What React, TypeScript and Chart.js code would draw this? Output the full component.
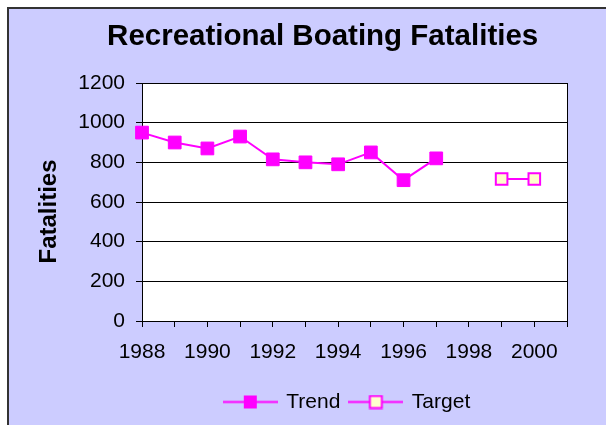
import React, { useEffect, useRef } from 'react';
import { Chart, registerables } from 'chart.js';

Chart.register(...registerables);

// ---- Data ----
const trendYears = [1988, 1989, 1990, 1991, 1992, 1993, 1994, 1995, 1996, 1997];
const trendValues = [950, 900, 870, 930, 815, 800, 790, 850, 710, 820];
const targetYears = [1999, 2000];
const targetValues = [716, 716];
const xMin = 1988;
const xMax = 2001;
const yMin = 0;
const yMax = 1200;
const yStep = 200;
const titleText = 'Recreational Boating Fatalities';
const yAxisTitle = 'Fatalities';
const seriesNames = ['Trend', 'Target'];

// ---- Styles ----
const FONT = '"Liberation Sans", Arial, sans-serif';
const MAGENTA = '#FF00FF';
const TARGET_FILL = '#FFFFCC';
const BG = '#CCCCFF';

function makeIcon(fill: string, border: number): HTMLCanvasElement {
  const c = document.createElement('canvas');
  c.width = 55;
  c.height = 15;
  const ctx = c.getContext('2d')!;
  ctx.strokeStyle = MAGENTA;
  ctx.lineWidth = 2;
  ctx.beginPath();
  ctx.moveTo(0, 7.5);
  ctx.lineTo(55, 7.5);
  ctx.stroke();
  if (border > 1) {
    ctx.fillStyle = fill;
    ctx.fillRect(21.5, 1.5, 12, 12);
    ctx.strokeRect(21.5, 1.5, 12, 12);
  } else {
    ctx.fillStyle = fill;
    ctx.fillRect(21, 1, 13, 13);
  }
  return c;
}

const plotAreaPlugin = {
  id: 'plotArea',
  afterLayout(chart: any) {
    const lg = chart.legend;
    if (lg) {
      lg.left -= 7;
      lg.right -= 7;
    }
    const tb = chart.titleBlock;
    if (tb) {
      tb.left += 5.5;
      tb.right += 5.5;
    }
  },
  beforeDraw(chart: any) {
    const { ctx, chartArea: a } = chart;
    ctx.save();
    ctx.fillStyle = '#FFFFFF';
    ctx.fillRect(a.left, a.top, a.right - a.left, a.bottom - a.top);
    ctx.restore();
  },
  beforeDatasetsDraw(chart: any) {
    const { ctx, chartArea: a } = chart;
    const al = (p: number) => Math.round(p - 0.5) + 0.5;
    ctx.save();
    ctx.strokeStyle = '#000000';
    ctx.lineWidth = 1;
    ctx.strokeRect(al(a.left), al(a.top), al(a.right) - al(a.left), al(a.bottom) - al(a.top));
    ctx.restore();
  },
  afterDraw(chart: any) {
    const { ctx, chartArea: a } = chart;
    ctx.save();
    ctx.translate(a.left - 93, (a.top + a.bottom) / 2 + 9.5);
    ctx.rotate(-Math.PI / 2);
    ctx.font = `bold 24px ${FONT}`;
    ctx.fillStyle = '#000000';
    ctx.textAlign = 'center';
    ctx.textBaseline = 'middle';
    ctx.fillText(yAxisTitle, 0, 0);
    ctx.restore();
  },
};

export default function App() {
  const ref = useRef<HTMLCanvasElement>(null);

  useEffect(() => {
    const icons = [makeIcon(MAGENTA, 1), makeIcon(TARGET_FILL, 2)];
    const chart = new Chart(ref.current!, {
      type: 'line',
      data: {
        datasets: [
          {
            label: seriesNames[0],
            data: trendYears.map((x, i) => ({ x, y: trendValues[i] })),
            borderColor: MAGENTA,
            borderWidth: 2,
            backgroundColor: MAGENTA,
            pointStyle: 'rect',
            pointRadius: 9,
            pointBorderWidth: 1,
            pointBorderColor: MAGENTA,
            pointBackgroundColor: MAGENTA,
            tension: 0,
            clip: false,
          },
          {
            label: seriesNames[1],
            data: targetYears.map((x, i) => ({ x, y: targetValues[i] })),
            borderColor: MAGENTA,
            borderWidth: 2,
            backgroundColor: TARGET_FILL,
            pointStyle: 'rect',
            pointRadius: 8.2,
            pointBorderWidth: 2,
            pointBorderColor: MAGENTA,
            pointBackgroundColor: TARGET_FILL,
            tension: 0,
            clip: false,
          },
        ],
      },
      options: {
        animation: false,
        responsive: false,
        devicePixelRatio: 1,
        layout: { padding: { left: 58.3, right: 68, top: 0, bottom: 2.5 } },
        font: { family: FONT },
        color: '#000000',
        scales: {
          x: {
            type: 'linear',
            min: xMin,
            max: xMax,
            afterFit: (s: any) => {
              s.height = 60.5;
            },
            grid: {
              drawOnChartArea: false,
              drawTicks: true,
              tickLength: 6,
              color: '#000000',
              lineWidth: 1,
            },
            border: { display: true, color: '#000000', width: 1 },
            ticks: {
              stepSize: 1,
              autoSkip: false,
              maxRotation: 0,
              minRotation: 0,
              padding: 13,
              color: '#000000',
              font: { family: FONT, size: 21 },
              callback: (v: any) => (Number(v) % 2 === 0 ? String(v) : ''),
            },
          },
          y: {
            type: 'linear',
            min: yMin,
            max: yMax,
            grid: {
              drawOnChartArea: true,
              drawTicks: true,
              tickLength: 6,
              color: '#000000',
              lineWidth: 1,
            },
            border: { display: true, color: '#000000', width: 1 },
            ticks: {
              stepSize: yStep,
              padding: 11,
              color: '#000000',
              font: { family: FONT, size: 21 },
              callback: (v: any) => String(v),
            },
          },
        },
        plugins: {
          title: {
            display: true,
            text: titleText,
            color: '#000000',
            font: { family: FONT, size: 29.5, weight: 'bold' },
            padding: { top: 10.5, bottom: 28.1 },
          },
          legend: {
            display: true,
            position: 'bottom',
            fullSize: false,
            labels: {
              usePointStyle: true,
              pointStyleWidth: 51,
              padding: 10,
              color: '#000000',
              font: { family: FONT, size: 21 },
              generateLabels: (c: any) => {
                const items = (Chart.defaults.plugins.legend.labels as any).generateLabels(c);
                items.forEach((it: any, i: number) => {
                  it.pointStyle = icons[i];
                  it.fontColor = '#000000';
                });
                return items;
              },
            },
          },
          tooltip: { enabled: false },
        },
      } as any,
      plugins: [plotAreaPlugin],
    });
    return () => chart.destroy();
  }, []);

  return (
    <div
      style={{
        position: 'fixed',
        left: 0,
        top: 0,
        width: 606,
        height: 425,
        overflow: 'hidden',
        background: '#FFFFFF',
      }}
    >
      <div
        style={{
          position: 'absolute',
          left: 7,
          top: 7,
          width: 640,
          height: 430,
          borderTop: '2px solid #333333',
          borderLeft: '2px solid #333333',
          background: BG,
        }}
      >
        <canvas ref={ref} width={626} height={416} style={{ display: 'block', width: 626, height: 416 }} />
      </div>
    </div>
  );
}
